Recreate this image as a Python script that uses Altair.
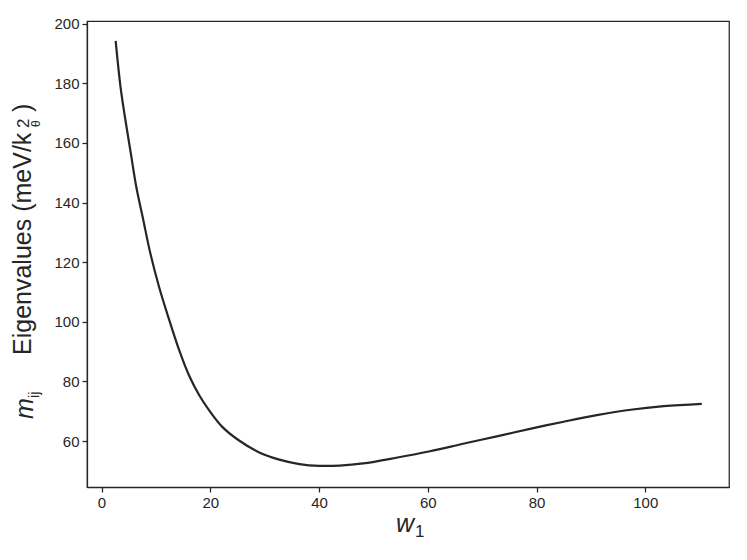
import altair as alt
import pandas as pd

# Data
w1 = [2.6, 3.5, 4.4, 5.4, 6.4, 7.7, 9.0, 10.6, 12.3, 14.3, 16.1, 18.0, 19.8, 22.3,
      25.3, 29.0, 32.7, 36.4, 40.1, 43.8, 48.1, 54.2, 60.4, 66.5, 72.7, 78.8, 85.0,
      91.1, 97.3, 103.4, 110.4]
eig = [194.2, 178.7, 167.6, 156.4, 145.2, 134.0, 122.8, 111.6, 101.5, 90.4, 82.0,
       75.3, 70.3, 64.6, 60.2, 56.2, 53.8, 52.3, 51.7, 51.8, 52.5, 54.4, 56.6, 59.1,
       61.6, 64.1, 66.5, 68.7, 70.5, 71.7, 72.5]
x_ticks = [0, 20, 40, 60, 80, 100]
y_ticks = [60, 80, 100, 120, 140, 160, 180, 200]

df = pd.DataFrame({"w1": w1, "eig": eig})

INK = "#262626"
FONT = "Liberation Sans"

x_scale = alt.Scale(domain=[-2.67, 115.4], nice=False, zero=False)
y_scale = alt.Scale(domain=[44.6, 200.9], nice=False, zero=False)

line = alt.Chart(df).mark_line(color=INK, strokeWidth=2.2, interpolate="catmull-rom").encode(
    x=alt.X("w1:Q", scale=x_scale, title=None,
            axis=alt.Axis(values=x_ticks, format="d")),
    y=alt.Y("eig:Q", scale=y_scale, title=None,
            axis=alt.Axis(values=y_ticks, format="d")),
)

def txt(s, x, y, size, angle=0, style="normal", baseline="alphabetic", align="left"):
    return alt.Chart(pd.DataFrame({"t": [s]})).mark_text(
        font=FONT, fontSize=size, fontStyle=style, color=INK, angle=angle,
        align=align, baseline=baseline,
    ).encode(x=alt.value(x), y=alt.value(y), text="t:N")

# y-axis title pieces (rotated), offsets relative to plot origin
ytitle = [
    txt("m", -54, 398, 25, angle=270, style="italic"),
    txt("ij", -48, 377, 15, angle=270),
    txt("Eigenvalues (meV/k", -56, 334, 25, angle=270),
    txt("2", -58, 107, 17, angle=270),
    txt("θ", -47, 106, 12, angle=270),
    txt(")", -56, 91, 25, angle=270),
]
xtitle = [
    txt("w", 309, 511, 25, style="italic"),
    txt("1", 328, 516, 17),
]

chart = alt.layer(line, *ytitle, *xtitle).properties(
    width=642, height=466,
    autosize=alt.AutoSizeParams(type="none"),
    padding={"left": 79, "top": 13, "right": 10, "bottom": 60},
).configure_view(
    stroke=INK, strokeWidth=1.25
).configure_axis(
    grid=False, domainColor=INK, domainWidth=1.25, tickColor=INK, tickWidth=1.25,
    tickSize=5, labelFont=FONT, labelFontSize=15, labelColor=INK, labelPadding=3,
)

chart.save("out.html", embed_options={"renderer": "svg", "actions": False})
